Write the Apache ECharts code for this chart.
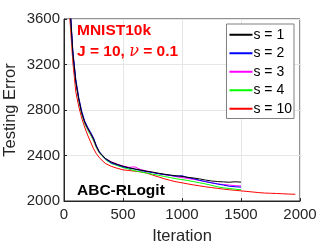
<!DOCTYPE html>
<html><head><meta charset="utf-8">
<script src="https://cdn.jsdelivr.net/npm/echarts@6/dist/echarts.min.js"></script>
<style>html,body{margin:0;padding:0;background:#fff}#c{width:332px;height:249px}</style>
</head><body><div id="c"></div>
<script>
const iters = [1,25,50,75,100,125,150,175,200,225,250,275,300,350,400,450,500,550,600,650,700,750,800,850,900,950,1000,1050,1100,1150,1200,1250,1300,1350,1400,1450,1500];
const itersS10 = [1,25,50,75,100,125,150,175,200,225,250,275,300,350,400,450,500,550,600,650,700,750,800,850,900,950,1000,1050,1100,1150,1200,1250,1300,1350,1400,1450,1500,1550,1600,1650,1700,1750,1800,1850,1900,1960];
const s1 = [6600,4400,3720,3300,3050,2895,2775,2695,2640,2595,2545,2480,2430,2375,2342,2322,2305,2292,2282,2272,2262,2254,2244,2236,2228,2222,2216,2208,2202,2194,2184,2176,2171,2168,2165,2169,2166];
const s2 = [6600,4420,3740,3320,3070,2910,2790,2705,2650,2605,2555,2485,2432,2370,2335,2318,2300,2290,2280,2268,2258,2250,2240,2232,2226,2218,2222,2206,2196,2182,2170,2160,2150,2140,2130,2125,2122];
const s3 = [6600,4400,3720,3300,3045,2890,2770,2690,2635,2590,2540,2475,2425,2372,2345,2325,2308,2296,2300,2276,2264,2252,2242,2232,2224,2214,2206,2198,2190,2180,2170,2160,2150,2145,2140,2135,2132];
const s4 = [6600,4380,3700,3290,3040,2880,2760,2680,2625,2580,2530,2465,2420,2365,2330,2312,2294,2280,2266,2256,2246,2236,2226,2216,2206,2196,2188,2180,2170,2160,2150,2138,2125,2116,2110,2104,2099];
const s10 = [6500,4300,3600,3220,2960,2830,2730,2650,2580,2520,2460,2415,2380,2330,2305,2288,2274,2268,2262,2256,2246,2228,2212,2196,2181,2169,2160,2150,2141,2133,2125,2118,2111,2105,2099,2094,2089,2084,2079,2074,2070,2068,2066,2064,2061,2059];
const names = ['s = 1','s = 2','s = 3','s = 4','s = 10'];
const colors = ['#000000','#0000ff','#ff00ff','#00ff00','#ff0000'];
const xTicks = [0,500,1000,1500,2000];
const yTicks = [2000,2400,2800,3200,3600];

const pair = (xs, ys) => xs.map((x,i)=>[x, ys[i]]);
const seriesData = [pair(iters,s1),pair(iters,s2),pair(iters,s3),pair(iters,s4),pair(itersS10,s10)];

const chart = echarts.init(document.getElementById('c'), null, {renderer:'canvas'});
const font = 'Liberation Sans, Arial, sans-serif';
const axisCol = '#262626';
chart.setOption({
  animation:false,
  grid:{left:64,right:32,top:19,bottom:48,show:true,borderColor:axisCol,borderWidth:1,backgroundColor:'#fff',containLabel:false,outerBoundsMode:'none'},
  xAxis:{type:'value',min:0,max:2000,interval:500,
    name:'Iteration',nameLocation:'middle',nameGap:27,nameMoveOverlap:false,
    nameTextStyle:{fontFamily:font,fontSize:16.5,color:axisCol},
    axisLine:{lineStyle:{color:axisCol}},
    axisTick:{inside:true,length:3,lineStyle:{color:axisCol}},
    axisLabel:{fontFamily:font,fontSize:15,color:axisCol,margin:6,formatter:v=>String(v)},
    splitLine:{show:true,lineStyle:{color:'#e6e6e6'}}},
  yAxis:{type:'value',min:2000,max:3600,interval:400,
    name:'Testing Error',nameLocation:'middle',nameGap:45,nameMoveOverlap:false,
    nameTextStyle:{fontFamily:font,fontSize:16.5,color:axisCol},
    axisLine:{show:true,lineStyle:{color:axisCol}},
    axisTick:{show:true,inside:true,length:3,lineStyle:{color:axisCol}},
    axisLabel:{fontFamily:font,fontSize:15,color:axisCol,margin:4,formatter:v=>String(v)},
    splitLine:{show:true,lineStyle:{color:'#e6e6e6'}}},
  legend:{orient:'vertical',right:38,top:24,
    backgroundColor:'#fff',borderColor:'#808080',borderWidth:1,
    padding:[3,2,2,3],itemGap:3,itemWidth:23,itemHeight:2,
    icon:'rect',
    textStyle:{fontFamily:font,fontSize:14,color:'#000',padding:[0,0,0,-4],lineHeight:15.5},
    data:names},
  graphic:[
    {type:'text',left:77,top:23,z:100,style:{text:'MNIST10k',font:'bold 15.5px '+font,fill:'#ff0000'}},
    {type:'text',left:77,top:44,z:100,style:{text:'J = 10, {i|ν} = 0.1',font:'bold 15.5px '+font,fill:'#ff0000',
       rich:{i:{fontFamily:'DejaVu Serif, serif',fontStyle:'italic',fontWeight:'normal',fontSize:16,fill:'#ff0000'}}}},
    {type:'text',left:77,top:183,z:100,style:{text:'ABC-RLogit',font:'bold 15.5px '+font,fill:'#000'}}
  ],
  series: seriesData.map((d,i)=>({
    type:'line',name:names[i],data:d,showSymbol:false,symbol:'none',
    lineStyle:{color:colors[i],width:1},itemStyle:{color:colors[i]},z:10-i,clip:true
  }))
});
</script></body></html>
